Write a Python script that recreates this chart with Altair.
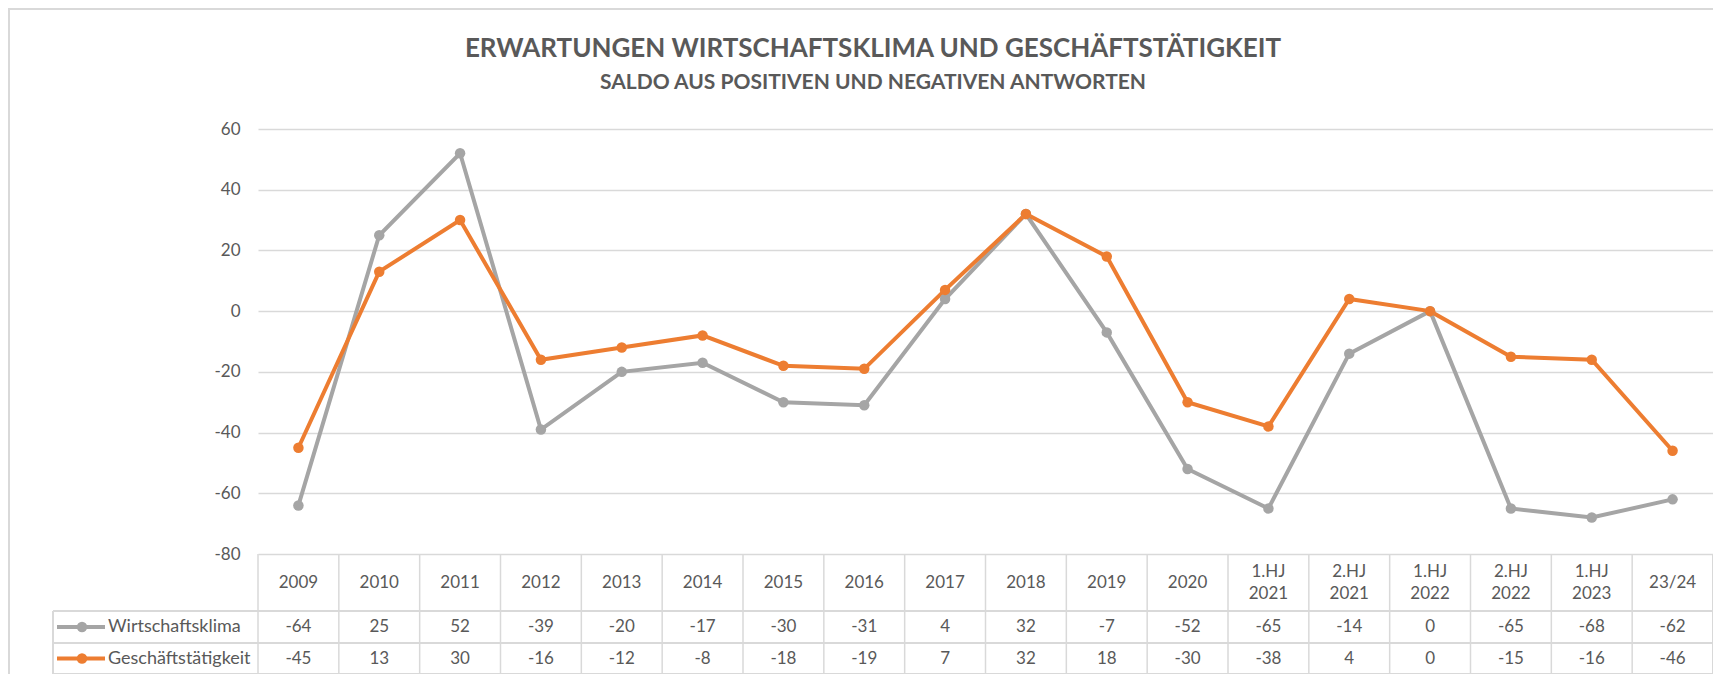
import altair as alt
import pandas as pd

categories = ["2009", "2010", "2011", "2012", "2013", "2014", "2015", "2016",
              "2017", "2018", "2019", "2020", "1.HJ\n2021", "2.HJ\n2021",
              "1.HJ\n2022", "2.HJ\n2022", "1.HJ\n2023", "23/24"]
series_names = ["Wirtschaftsklima", "Geschäftstätigkeit"]
wirtschaftsklima = [-64, 25, 52, -39, -20, -17, -30, -31, 4, 32, -7, -52, -65, -14, 0, -65, -68, -62]
geschaeftstaetigkeit = [-45, 13, 30, -16, -12, -8, -18, -19, 7, 32, 18, -30, -38, 4, 0, -15, -16, -46]
y_ticks = [-80, -60, -40, -20, 0, 20, 40, 60]
colors = ["#A5A5A5", "#ED7D31"]
title_text = "ERWARTUNGEN WIRTSCHAFTSKLIMA UND GESCHÄFTSTÄTIGKEIT"
subtitle_text = "SALDO AUS POSITIVEN UND NEGATIVEN ANTWORTEN"

W, H = 1455, 425
FONT = "Lato"
TXT = "#595959"
LINE = "#d9d9d9"

rows = []
for c, v in zip(categories, wirtschaftsklima):
    rows.append({"cat": c, "series": series_names[0], "value": v, "label": str(v)})
for c, v in zip(categories, geschaeftstaetigkeit):
    rows.append({"cat": c, "series": series_names[1], "value": v, "label": str(v)})
df = pd.DataFrame(rows)
cat_df = pd.DataFrame({"cat": categories})
cat_one = pd.DataFrame({"cat": [c for c in categories if "\n" not in c]})
cat_two = pd.DataFrame({"cat": [c for c in categories if "\n" in c]})

xscale = alt.Scale(type="band", domain=categories, paddingInner=0, paddingOuter=0)
X = alt.X("cat:N", sort=categories, scale=xscale, axis=None)
color = alt.Color("series:N", scale=alt.Scale(domain=series_names, range=colors), legend=None)

yaxis = alt.Axis(values=y_ticks, grid=True, gridColor=LINE, gridWidth=1.5, domain=False,
                 ticks=False, labelColor=TXT, labelFontSize=17, labelFont=FONT,
                 labelPadding=18, title=None, labelExpr="'' + datum.value")
Y = alt.Y("value:Q", scale=alt.Scale(domain=[-80, 60], nice=False, zero=False), axis=yaxis)

layers = []

# frame
layers.append(alt.Chart(cat_df).mark_rect(filled=False, stroke=LINE, strokeWidth=2).encode(
    x=alt.value(-249), x2=alt.value(W + 60), y=alt.value(-120), y2=alt.value(H + 200)))

# title texts
layers.append(alt.Chart(pd.DataFrame({"t": [title_text]})).mark_text(
    font=FONT, fontSize=26, fontWeight="bold", color=TXT, baseline="middle").encode(
    x=alt.value(615), y=alt.value(-80), text="t:N"))
layers.append(alt.Chart(pd.DataFrame({"t": [subtitle_text]})).mark_text(
    font=FONT, fontSize=21, fontWeight="bold", color=TXT, baseline="middle").encode(
    x=alt.value(615), y=alt.value(-46), text="t:N"))

# table grid lines
HDR0, R1, R2, R3 = H, H + 57, H + 89, H + 120
layers.append(alt.Chart(cat_df).mark_rule(color=LINE, strokeWidth=1.5).encode(
    x=alt.X("cat:N", sort=categories, scale=xscale, axis=None, bandPosition=0),
    y=alt.value(HDR0), y2=alt.value(R3)))
layers.append(alt.Chart(cat_df).mark_rule(color=LINE, strokeWidth=1.5).encode(
    x=alt.value(W), y=alt.value(HDR0), y2=alt.value(R3)))
layers.append(alt.Chart(cat_df).mark_rule(color=LINE, strokeWidth=1.5).encode(
    x=alt.value(-205), y=alt.value(R1), y2=alt.value(R3)))
for yy in (R1, R2, R3):
    layers.append(alt.Chart(cat_df).mark_rule(color=LINE, strokeWidth=1.5).encode(
        x=alt.value(-205), x2=alt.value(W), y=alt.value(yy)))

# lines + points
lines = alt.Chart(df).mark_line(strokeWidth=4).encode(x=X, y=Y, color=color)
pts = alt.Chart(df).mark_point(filled=True, size=110, opacity=1).encode(x=X, y=Y, color=color)
layers += [lines, pts]

# header text
hc = (HDR0 + R1) / 2
layers.append(alt.Chart(cat_one).mark_text(font=FONT, fontSize=17, color=TXT,
                                           baseline="middle").encode(
    x=X, y=alt.value(hc), text="cat:N"))
layers.append(alt.Chart(cat_two).mark_text(font=FONT, fontSize=17, color=TXT, lineBreak="\n",
                                           lineHeight=22, baseline="middle", dy=-11).encode(
    x=X, y=alt.value(hc), text="cat:N"))

# table values and legend column
for name, (ya, yb) in zip(series_names, [(R1, R2), (R2, R3)]):
    yc = (ya + yb) / 2
    sub = df[df["series"] == name]
    layers.append(alt.Chart(sub).mark_text(font=FONT, fontSize=17, color=TXT, baseline="middle").encode(
        x=X, y=alt.value(yc), text="label:N"))
    one = pd.DataFrame({"series": [name]})
    layers.append(alt.Chart(one).mark_rule(strokeWidth=4).encode(
        x=alt.value(-201), x2=alt.value(-153), y=alt.value(yc), color=color))
    layers.append(alt.Chart(one).mark_point(filled=True, size=110, opacity=1).encode(
        x=alt.value(-176), y=alt.value(yc), color=color))
    layers.append(alt.Chart(one).mark_text(font=FONT, fontSize=18, color=TXT, align="left",
                                           baseline="middle").encode(
        x=alt.value(-150), y=alt.value(yc), text="series:N"))

chart = alt.layer(*layers).properties(
    width=W, height=H,
    padding={"left": 250, "top": 121, "right": 0, "bottom": 120},
    autosize=alt.AutoSizeParams(type="none"),
    background="white",
).configure_view(stroke=None)

chart.save("out.html", embed_options={"renderer": "svg", "actions": False})
